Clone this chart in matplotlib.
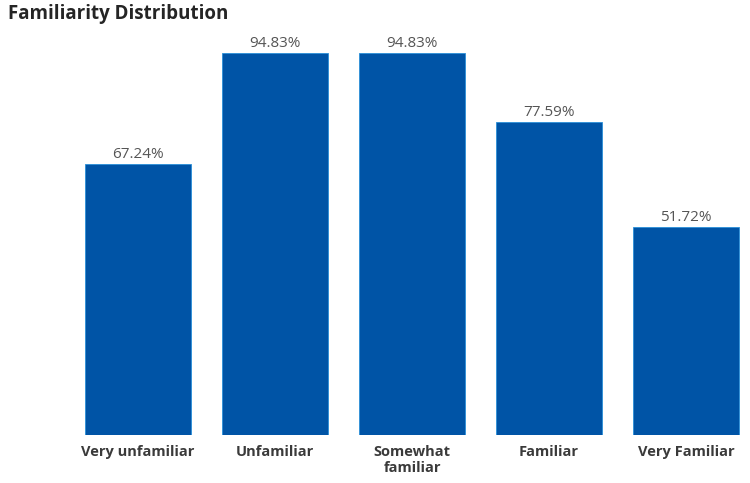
import matplotlib.pyplot as plt

# data
categories = ['Very unfamiliar', 'Unfamiliar', 'Somewhat\nfamiliar', 'Familiar', 'Very Familiar']
values = [67.24, 94.83, 94.83, 77.59, 51.72]

plt.rcParams['font.family'] = ['Open Sans', 'DejaVu Sans']

fig = plt.figure(figsize=(7.5, 4.83), dpi=100)
# axes: bottom at y=435px, top of the tallest bar at ~53px
ax = fig.add_axes([60 / 750, (483 - 435) / 483, 685 / 750, 400 / 483])

x = range(len(categories))
ax.bar(x, values, width=0.774, color='#0054A6', edgecolor='#2a8fd8', linewidth=0.6)

for xi, v in zip(x, values):
    ax.text(xi, v + 0.5, f'{v:.2f}%', ha='center', va='bottom',
            fontsize=11, color='#555555')

ax.set_xlim(-0.569, 4.43)
ax.set_ylim(0, 99.3)
ax.set_xticks(list(x))
ax.set_xticklabels(categories, fontsize=10.5, fontweight='bold', color='#3a3a3a',
                   linespacing=1.2)
ax.tick_params(axis='x', length=0, pad=7)
ax.set_yticks([])
for s in ax.spines.values():
    s.set_visible(False)

fig.text(8 / 750, 1 - 14 / 483, 'Familiarity Distribution', ha='left', va='center',
         fontsize=13.5, fontweight='bold', color='#252525')

fig.savefig('out.png', dpi=100)
